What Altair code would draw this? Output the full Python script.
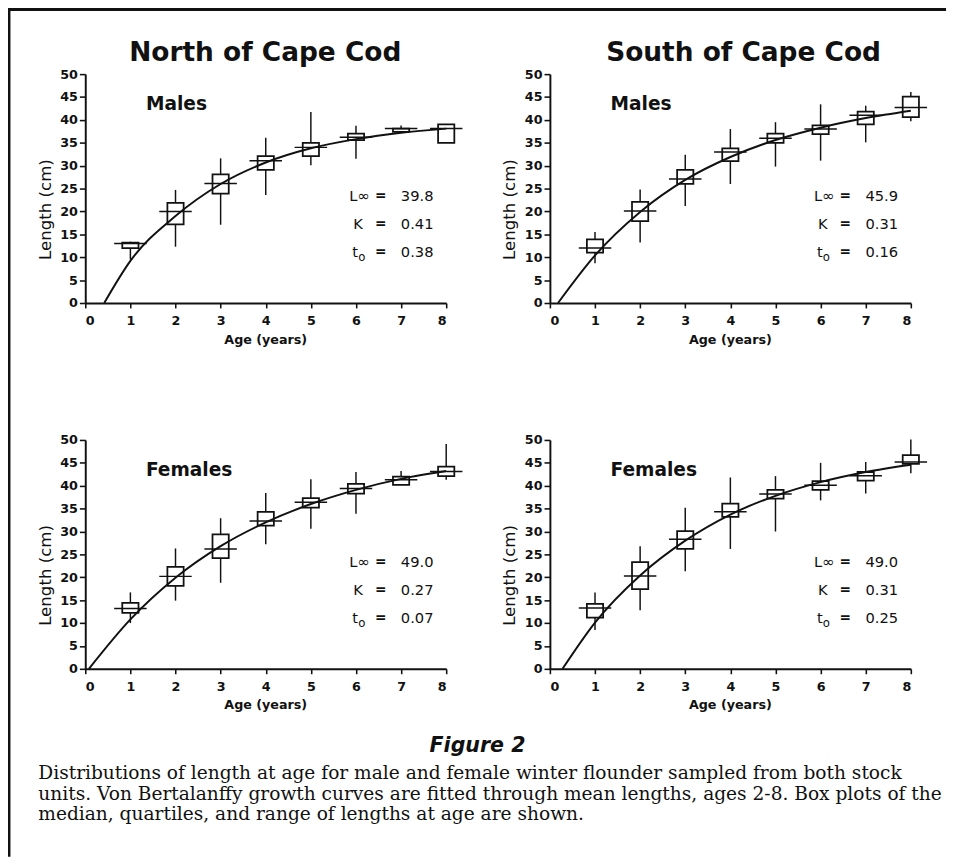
import altair as alt
import pandas as pd

# ---------------- data ----------------
ages = [1, 2, 3, 4, 5, 6, 7, 8]

# North of Cape Cod - Males
nm_min = [9.5, 12.3, 17.1, 23.6, 30.1, 31.5, 37.4, 35.0]
nm_q1 = [12.0, 17.2, 23.9, 29.1, 32.1, 35.6, 37.4, 35.0]
nm_med = [13.0, 20.0, 26.1, 31.1, 34.0, 36.2, 38.1, 38.1]
nm_q3 = [13.2, 21.9, 28.1, 32.1, 35.0, 37.0, 38.1, 39.0]
nm_max = [13.4, 24.7, 31.6, 36.1, 41.7, 38.7, 38.8, 39.0]
nm_curve_age = [0.42, 1, 2, 3, 4, 5, 6, 7, 8]
nm_curve_len = [0.0, 9.2, 19.0, 26.0, 30.7, 33.8, 35.8, 37.2, 38.1]

# South of Cape Cod - Males
sm_min = [8.7, 13.2, 21.2, 26.0, 29.8, 31.1, 35.1, 39.7]
sm_q1 = [11.0, 17.9, 26.0, 31.0, 35.0, 36.9, 39.0, 40.6]
sm_med = [12.0, 20.1, 27.1, 33.0, 36.0, 38.0, 41.0, 42.7]
sm_q3 = [13.9, 22.1, 29.1, 33.8, 37.0, 38.8, 41.8, 45.1]
sm_max = [15.5, 24.8, 32.4, 38.0, 39.5, 43.4, 43.1, 46.1]
sm_curve_age = [0.18, 1, 2, 3, 4, 5, 6, 7, 8]
sm_curve_len = [0.0, 10.4, 19.9, 26.9, 31.9, 35.6, 38.3, 40.4, 42.0]

# North of Cape Cod - Females
nf_min = [10.0, 14.9, 18.8, 27.2, 30.6, 33.9, 40.2, 41.3]
nf_q1 = [12.2, 18.1, 24.2, 31.3, 35.2, 38.3, 40.2, 42.1]
nf_med = [13.2, 20.2, 26.2, 32.3, 36.4, 39.4, 41.3, 43.1]
nf_q3 = [14.4, 22.3, 29.4, 34.3, 37.3, 40.4, 42.0, 44.2]
nf_max = [16.7, 26.3, 32.9, 38.4, 41.4, 43.0, 43.2, 49.1]
nf_curve_age = [0.08, 1, 2, 3, 4, 5, 6, 7, 8]
nf_curve_len = [0.0, 10.8, 19.9, 26.8, 32.0, 36.0, 39.1, 41.5, 43.2]

# South of Cape Cod - Females
sf_min = [8.5, 12.8, 21.3, 26.2, 30.0, 36.8, 38.3, 42.7]
sf_q1 = [11.2, 17.4, 26.2, 33.2, 37.2, 39.1, 41.1, 44.8]
sf_med = [13.3, 20.3, 28.3, 34.3, 38.2, 40.1, 42.2, 45.2]
sf_q3 = [14.2, 23.3, 30.1, 36.1, 39.1, 41.0, 43.0, 46.7]
sf_max = [16.7, 26.8, 35.2, 41.8, 42.1, 45.0, 45.2, 50.1]
sf_curve_age = [0.28, 1, 2, 3, 4, 5, 6, 7, 8]
sf_curve_len = [0.0, 10.1, 20.4, 28.0, 33.7, 37.8, 40.8, 43.0, 44.6]

panel_titles = ["North of Cape Cod", "South of Cape Cod"]
sex_labels = ["Males", "Males", "Females", "Females"]
linf_vals = ["39.8", "45.9", "49.0", "49.0"]
k_vals = ["0.41", "0.31", "0.27", "0.31"]
t0_vals = ["0.38", "0.16", "0.07", "0.25"]

x_ticks = [0, 1, 2, 3, 4, 5, 6, 7, 8]
y_ticks = [0, 5, 10, 15, 20, 25, 30, 35, 40, 45, 50]

fig_label = "Figure 2"
caption_lines = [
    "Distributions of length at age for male and female winter flounder sampled from both stock",
    "units. Von Bertalanffy growth curves are fitted through mean lengths, ages 2-8. Box plots of the",
    "median, quartiles, and range of lengths at age are shown.",
]

# ---------------- styling ----------------
FONT = "DejaVu Sans"
SERIF = "DejaVu Serif"
INK = "#111111"
W, H = 369, 234
ONE = pd.DataFrame({"a": [0]})


def txt(s, x, y, size, weight="normal", align="left", font=FONT,
        style="normal", baseline="middle"):
    return alt.Chart(ONE).mark_text(
        text=s, fontSize=size, fontWeight=weight, align=align,
        baseline=baseline, font=font, color=INK, fontStyle=style,
    ).encode(x=alt.value(x), y=alt.value(y))


XS = alt.Scale(domain=[0, 8], nice=False, zero=False)
YS = alt.Scale(domain=[0, 50], nice=False)
XAXIS = alt.Axis(values=x_ticks, format="d", title="Age (years)",
                 tickSize=5, labelPadding=7, titleX=184, titleY=37,
                 titleBaseline="middle", titleAlign="center",
                 titleFontSize=13, titleFontWeight="bold")
YAXIS = alt.Axis(values=y_ticks, format="d", title="Length (cm)",
                 tickSize=6, labelPadding=2, titleX=-41, titleY=138,
                 titleAngle=270, titleAlign="center",
                 titleBaseline="middle", titleFontSize=17,
                 titleFontWeight="normal")


def panel(mins, q1s, meds, q3s, maxs, c_age, c_len, sex, linf, k, t0,
          title=None, title_x=184, extras=None):
    box = pd.DataFrame({"age": ages, "lo": mins, "q1": q1s, "med": meds,
                        "q3": q3s, "hi": maxs})
    base = alt.Chart(box)
    whisk = base.mark_rule(color=INK, strokeWidth=1.5).encode(
        x=alt.X("age:Q", scale=XS, axis=XAXIS),
        y=alt.Y("lo:Q", scale=YS, axis=YAXIS),
        y2="hi:Q",
    )
    boxes = base.transform_calculate(
        xa="datum.age - 0.18", xb="datum.age + 0.18"
    ).mark_rect(fill="white", stroke=INK, strokeWidth=1.8).encode(
        x=alt.X("xa:Q", scale=XS, axis=XAXIS), x2="xb:Q",
        y=alt.Y("q1:Q", scale=YS, axis=YAXIS), y2="q3:Q",
    )
    medl = base.transform_calculate(
        xa="datum.age - 0.36", xb="datum.age + 0.36"
    ).mark_rule(color=INK, strokeWidth=1.5).encode(
        x=alt.X("xa:Q", scale=XS, axis=XAXIS), x2="xb:Q",
        y=alt.Y("med:Q", scale=YS, axis=YAXIS),
    )
    curve = alt.Chart(pd.DataFrame({"t": c_age, "L": c_len})).mark_line(
        color=INK, strokeWidth=2, interpolate="monotone"
    ).encode(
        x=alt.X("t:Q", scale=XS, axis=XAXIS),
        y=alt.Y("L:Q", scale=YS, axis=YAXIS),
    )
    layers = [whisk, boxes, medl, curve]
    layers.append(txt(sex, 62, 31, 19, weight="bold"))
    rows = [125, 153, 182]
    layers.append(txt("L\u221e", 270, rows[0], 15))
    layers.append(txt("K", 274, rows[1], 15))
    layers.append(txt("t", 273, rows[2], 15))
    layers.append(txt("o", 279, rows[2] + 5, 12))
    for r in rows:
        layers.append(txt("=", 302, r, 14, weight="bold", align="center"))
    layers.append(txt(linf, 356, rows[0], 15, align="right"))
    layers.append(txt(k, 356, rows[1], 15, align="right"))
    layers.append(txt(t0, 356, rows[2], 15, align="right"))
    if title:
        layers.append(txt(title, title_x, -13, 27, weight="bold",
                          align="center", baseline="alphabetic"))
    if extras:
        layers.extend(extras)
    return alt.layer(*layers).properties(width=W, height=H)


# page border (top and left rules of the scanned page)
border = [
    alt.Chart(ONE).mark_rule(color=INK, strokeWidth=3).encode(
        x=alt.value(-78), y=alt.value(-66), y2=alt.value(800)),
    alt.Chart(ONE).mark_rule(color=INK, strokeWidth=3).encode(
        x=alt.value(-79), x2=alt.value(880), y=alt.value(-66)),
]

caption = [txt(fig_label, 401, 313, 21, weight="bold", align="center",
               style="italic")]
for i, line in enumerate(caption_lines):
    caption.append(txt(line, -48, 341 + 21 * i, 19, font=SERIF))

p_nm = panel(nm_min, nm_q1, nm_med, nm_q3, nm_max, nm_curve_age, nm_curve_len,
             sex_labels[0], linf_vals[0], k_vals[0], t0_vals[0],
             title=panel_titles[0], title_x=184, extras=border)
p_sm = panel(sm_min, sm_q1, sm_med, sm_q3, sm_max, sm_curve_age, sm_curve_len,
             sex_labels[1], linf_vals[1], k_vals[1], t0_vals[1],
             title=panel_titles[1], title_x=198)
p_nf = panel(nf_min, nf_q1, nf_med, nf_q3, nf_max, nf_curve_age, nf_curve_len,
             sex_labels[2], linf_vals[2], k_vals[2], t0_vals[2],
             extras=caption)
p_sf = panel(sf_min, sf_q1, sf_med, sf_q3, sf_max, sf_curve_age, sf_curve_len,
             sex_labels[3], linf_vals[3], k_vals[3], t0_vals[3])

chart = alt.concat(
    p_nm, p_sm, p_nf, p_sf, columns=2, bounds="flush",
    spacing={"row": 140, "column": 106},
).properties(
    padding={"left": -2, "top": -10, "right": 0, "bottom": 0},
    background="white",
).configure_view(stroke=None).configure_axis(
    grid=False, domainColor=INK, domainWidth=2, tickColor=INK, tickWidth=1.6,
    labelColor=INK, titleColor=INK, labelFont=FONT, titleFont=FONT,
    labelFontSize=13, labelFontWeight="bold",
)

chart.save("out.html", embed_options={"renderer": "svg", "actions": False})
